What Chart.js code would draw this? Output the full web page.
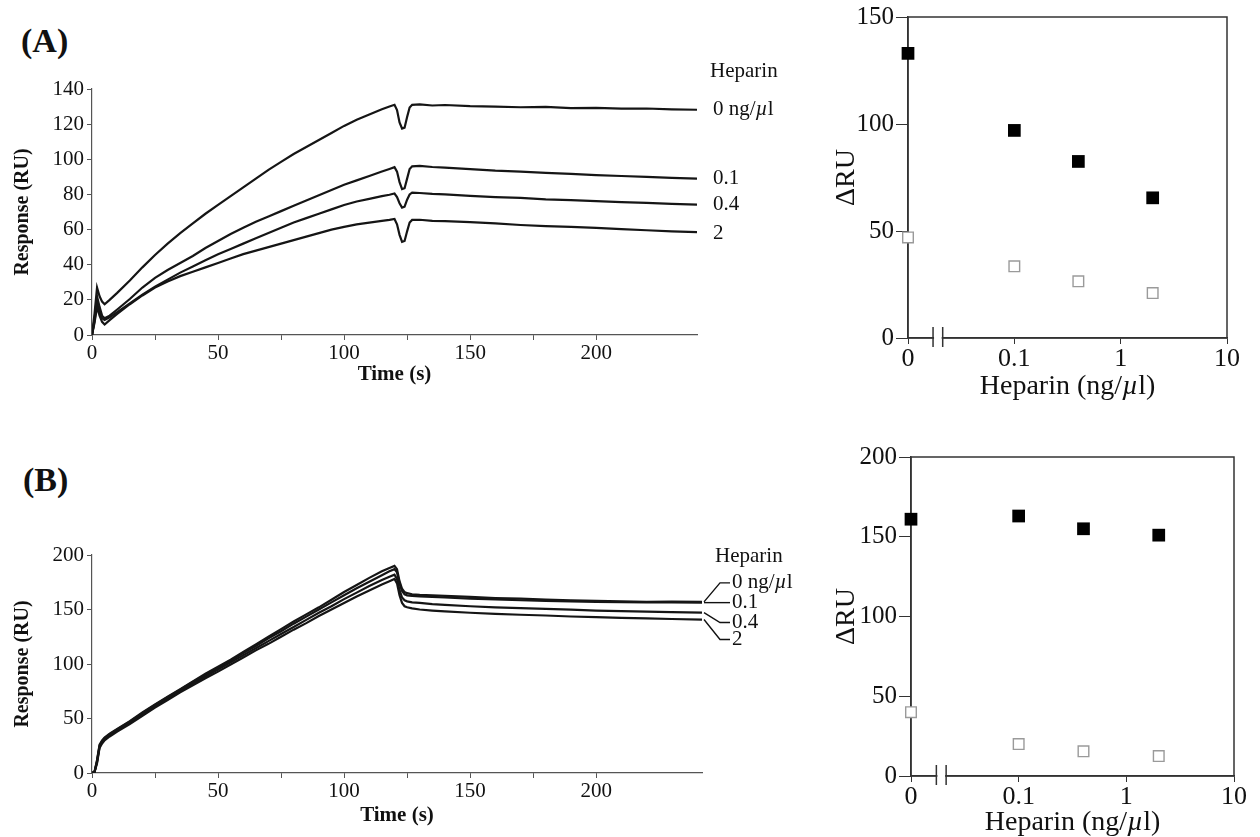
<!DOCTYPE html>
<html>
<head>
<meta charset="utf-8">
<title>Heparin sensorgrams</title>
<script src="https://cdn.jsdelivr.net/npm/chart.js@4.4.1/dist/chart.umd.min.js"></script>
<style>
  html, body { margin: 0; background: #fff; }
  body { position: relative; width: 1260px; height: 837px; overflow: hidden; font-family: "Liberation Serif", serif; }
  .panel { position: absolute; }
  .tag { position: absolute; font-weight: bold; font-size: 34px; line-height: 1; color: #111; }
</style>
</head>
<body>
<div class="tag" style="left:21px; top:24px">(A)</div>
<div class="tag" style="left:23px; top:463px">(B)</div>
<div class="panel" style="left:0; top:55px; width:800px; height:334px"><canvas id="sensA"></canvas></div>
<div class="panel" style="left:828px; top:0; width:432px; height:400px"><canvas id="doseA"></canvas></div>
<div class="panel" style="left:0; top:520px; width:800px; height:310px"><canvas id="sensB"></canvas></div>
<div class="panel" style="left:828px; top:440px; width:432px; height:397px"><canvas id="doseB"></canvas></div>

<script>
// ---- data ----
const doseLabels = ["0 ng/µl", "0.1", "0.4", "2"];

// (A) sensorgrams
const timeA = [0,1,2,3,4,5,7,10,15,20,25,30,35,40,45,50,55,60,65,70,75,80,85,90,95,100,105,110,115,118,120,121,122,123,124,125,126,127,130,135,140,150,160,170,180,190,200,210,220,230,240];
const respA0  = [0,12,27,22,19,17.5,20,24,31,38.5,45.5,52,58,63.5,69,74,79,84,89,94,98.5,103,107,111,115,119,122.5,125.5,128.5,130,131,128,121,117.5,118,124,129.5,131,131.2,130.6,130.9,130.2,130,129.6,129.8,129.1,129.3,128.8,128.9,128.4,128.2];
const respA01 = [0,9,22,16,11,9.5,11,14.5,20.5,27,32.5,37,41,45,49.5,53.5,57.5,61,64.5,67.5,70.5,73.5,76.5,79.5,82.5,85.5,88,90.5,93,94.5,95.5,93,87,83,83.5,89,94.5,96,96.3,95.6,95.2,94.4,93.5,93,92.3,91.7,91,90.5,90,89.4,89];
const respA04 = [0,8,18,13,9.5,8.5,10,13,18,23,27.5,31.5,35.5,39,42.5,46,49,52,55,58,61,64,66.5,69,71.5,74,76,77.5,79,79.8,80.5,78.5,75,72.5,73,77,80,81,80.8,80.3,80,79.2,78.5,78,77.2,76.8,76.2,75.6,75.2,74.6,74.2];
const respA2  = [0,7,16,11,7.5,6,8.5,12,17.5,22.5,27,30.5,33.5,36,38.5,41,43.5,46,48,50,52,54,56,58,60,61.5,63,64,65,65.5,66,63,57,53,53.5,59,64,65.5,65.6,65,64.8,64.2,63.5,62.6,62,61.5,61,60.2,59.6,59,58.5];

// (B) sensorgrams
const timeB = [0,1,2,3,4,5,7,10,15,20,25,30,35,40,45,50,55,60,65,70,75,80,85,90,95,100,105,110,115,118,120,121,122,123,124,125,127,130,135,140,150,160,170,180,190,200,210,220,230,242];
const respB0  = [0,1,12,26,30,32.5,36,40.5,47.5,55.5,63,70,77,84,91,97.5,104,111,118,125,132,139,145.5,152,159,166,172.5,179,185,188,190,187,176,169,166,165,164,163.5,163,162.5,161.5,160.5,160,159,158.5,158,157.5,157,157.3,157];
const respB01 = [0,1,11,25,29,32,35.5,40,47,55,62.5,69.5,76.5,83.5,90,96.5,103,110,116.5,123.5,130,137,143.5,150,156.5,163,169.5,175.5,181.5,185,187,184,174,167,164,163,162.5,162,161.5,161,160,159.3,158.5,158,157.4,157,156.7,156.4,156.6,156.3];
const respB04 = [0,1,10,24,28,31,34.5,39,46,53.5,61,68,75,82,88.5,95,101.5,108,114.5,121,127.5,134,140.5,147,153,159.5,165.5,171.5,177,180,182,178,168,161,158.5,157.5,156.5,156,155,154.3,153,152,151.2,150.5,149.8,149,148.5,148,147.6,147.2];
const respB2  = [0,1,9,23,27,30,33.5,38,45,52.5,60,67,74,80.5,87,93,99.5,106,112.5,118.5,125,131.5,137.5,144,150,156,162,167.5,173,176,178,174,163,156,153,152,151,150,149,148.2,147,146,145.2,144.5,143.6,143,142.4,141.8,141.3,140.8];

// dose response, heparin in ng/ul (0 is drawn at the axis break)
const heparinDose = [0, 0.1, 0.4, 2];
const deltaA_filled = [133, 97, 82.5, 65.5];
const deltaA_open   = [47, 33.5, 26.5, 21];
const deltaB_filled = [161, 163, 155, 151];
const deltaB_open   = [40, 20, 15.5, 12.5];
const doseTickValues = [0.01, 0.1, 1, 10];
const doseTickLabels = ["0", "0.1", "1", "10"];

// ---- helpers ----
const SERIF = '"Liberation Serif", "DejaVu Serif", serif';
Chart.defaults.font.family = SERIF;
Chart.defaults.color = "#111";

// text with an italic mu
function drawMu(ctx, text, x, y, size, align) {
  const parts = text.split("µ");
  const pieces = [];
  parts.forEach((p, i) => {
    if (p) pieces.push([p, false]);
    if (i < parts.length - 1) pieces.push(["µ", true]);
  });
  let total = 0;
  pieces.forEach(pc => {
    ctx.font = (pc[1] ? "italic " : "") + size + "px " + SERIF;
    total += ctx.measureText(pc[0]).width;
  });
  let cx = align === "center" ? x - total / 2 : x;
  ctx.textAlign = "left";
  pieces.forEach(pc => {
    ctx.font = (pc[1] ? "italic " : "") + size + "px " + SERIF;
    ctx.fillText(pc[0], cx, y);
    cx += ctx.measureText(pc[0]).width;
  });
}

// heparin labels at the right end of each sensorgram
const curveLabels = {
  id: "curveLabels",
  afterDraw(chart, args, opts) {
    const { ctx, chartArea: a, scales: { y } } = chart;
    ctx.save();
    ctx.fillStyle = "#111";
    ctx.strokeStyle = "#111";
    ctx.lineWidth = 1.4;
    ctx.textBaseline = "middle";
    let firstY = null;
    chart.data.datasets.forEach((ds, i) => {
      const yEnd = y.getPixelForValue(ds.data[ds.data.length - 1].y);
      const ly = yEnd + opts.shift[i];
      if (firstY === null) firstY = ly;
      if (opts.leader) {
        ctx.beginPath();
        ctx.moveTo(a.right + 2, yEnd);
        ctx.lineTo(a.right + 18, ly);
        ctx.lineTo(a.right + opts.dx - 2, ly);
        ctx.stroke();
      }
      drawMu(ctx, doseLabels[i], a.right + opts.dx, ly, 21, "left");
    });
    ctx.font = "21px " + SERIF;
    ctx.fillText("Heparin", a.right + opts.headDx, firstY + opts.headDy);
    ctx.restore();
  }
};

// closed frame + axis break for the dose plots
const frameAndBreak = {
  id: "frameAndBreak",
  beforeDatasetsDraw(chart) {
    const { ctx, chartArea: a, scales: { x } } = chart;
    ctx.save();
    ctx.strokeStyle = "#333";
    ctx.lineWidth = 1.5;
    ctx.strokeRect(a.left, a.top, a.right - a.left, a.bottom - a.top);
    const b1 = x.getPixelForValue(0.0172);
    const b2 = x.getPixelForValue(0.0212);
    ctx.fillStyle = "#fff";
    ctx.fillRect(b1 + 1, a.bottom - 3, b2 - b1 - 2, 6);
    ctx.beginPath();
    ctx.moveTo(b1, a.bottom - 11); ctx.lineTo(b1, a.bottom + 9);
    ctx.moveTo(b2, a.bottom - 11); ctx.lineTo(b2, a.bottom + 9);
    ctx.stroke();
    ctx.restore();
  },
  afterDraw(chart, args, opts) {
    const { ctx, chartArea: a } = chart;
    ctx.save();
    ctx.fillStyle = "#111";
    ctx.textBaseline = "middle";
    drawMu(ctx, "Heparin (ng/µl)", (a.left + a.right) / 2, a.bottom + opts.titleDy, 28, "center");
    ctx.restore();
  }
};

function sensorChart(id, times, series, o) {
  const datasets = series.map(vals => ({
    data: vals.map((v, i) => ({ x: times[i], y: v })),
    borderColor: "#151515",
    borderWidth: 2.2,
    pointRadius: 0,
    tension: 0,
    fill: false
  }));
  return new Chart(document.getElementById(id), {
    type: "line",
    data: { datasets },
    plugins: [curveLabels],
    options: {
      responsive: true,
      maintainAspectRatio: false,
      animation: false,
      events: [],
      layout: { padding: { top: o.padTop, right: o.padRight, left: 0, bottom: 0 } },
      plugins: {
        legend: { display: false },
        tooltip: { enabled: false },
        curveLabels: o.labels
      },
      scales: {
        x: {
          type: "linear",
          min: 0,
          max: o.xMax,
          afterFit: s => { s.height = o.xHeight; },
          afterBuildTicks: s => { s.ticks = s.ticks.filter(t => t.value % 25 === 0); },
          border: { color: "#555", width: 1.2 },
          grid: { drawOnChartArea: false, tickLength: 5, color: "#555" },
          ticks: { stepSize: 25, font: { size: 21 }, padding: 1, maxRotation: 0,
                   callback: v => (v % 50 === 0 ? v : "") },
          title: { display: true, text: "Time (s)", font: { size: 21, weight: "bold" }, padding: { top: 0, bottom: 2 } }
        },
        y: {
          min: 0,
          max: o.yMax,
          afterFit: s => { s.width = 92; },
          border: { color: "#555", width: 1.2 },
          grid: { drawOnChartArea: false, tickLength: 5, color: "#555" },
          ticks: { stepSize: o.yStep, font: { size: 21 }, padding: 3,
                   callback: v => (v % o.yLabelEvery === 0 ? v : "") },
          title: { display: true, text: "Response (RU)", font: { size: 20, weight: "bold" }, padding: { top: 11, bottom: 0 } }
        }
      }
    }
  });
}

function doseChart(id, filled, open, o) {
  const toPts = vals => vals.map((v, i) => ({ x: heparinDose[i] === 0 ? doseTickValues[0] : heparinDose[i], y: v }));
  return new Chart(document.getElementById(id), {
    type: "scatter",
    data: {
      datasets: [
        { data: toPts(filled), pointStyle: "rect", pointRadius: 9, backgroundColor: "#000", borderColor: "#000", borderWidth: 0, clip: false },
        { data: toPts(open), pointStyle: "rect", pointRadius: 7.5, backgroundColor: "#fff", borderColor: "#9a9a9a", borderWidth: 1.4, clip: false }
      ]
    },
    plugins: [frameAndBreak],
    options: {
      responsive: true,
      maintainAspectRatio: false,
      animation: false,
      events: [],
      layout: { padding: { top: 16, right: o.padRight, left: 0, bottom: 0 } },
      plugins: {
        legend: { display: false },
        tooltip: { enabled: false },
        frameAndBreak: { titleDy: o.titleDy }
      },
      scales: {
        x: {
          type: "logarithmic",
          min: doseTickValues[0],
          max: doseTickValues[doseTickValues.length - 1],
          afterFit: s => { s.height = o.xHeight; },
          afterBuildTicks: s => { s.ticks = doseTickValues.map(v => ({ value: v })); },
          border: { color: "#333", width: 1.5 },
          grid: { drawOnChartArea: false, tickLength: 6, color: "#333" },
          ticks: { font: { size: 26 }, padding: 0, maxRotation: 0, autoSkip: false,
                   callback: (v, i) => doseTickLabels[i] }
        },
        y: {
          min: 0,
          max: o.yMax,
          afterFit: s => { s.width = o.yWidth; },
          border: { color: "#333", width: 1.5 },
          grid: { drawOnChartArea: false, tickLength: 12, color: "#333" },
          ticks: { stepSize: 50, font: { size: 25 }, padding: 2 },
          title: { display: true, text: "ΔRU", font: { size: 28 }, padding: { top: 2, bottom: 0 } }
        }
      }
    }
  });
}

sensorChart("sensA", timeA, [respA0, respA01, respA04, respA2], {
  xMax: 240, yMax: 140, yStep: 10, yLabelEvery: 20, padTop: 34, padRight: 103, xHeight: 54,
  labels: { leader: false, dx: 16, headDx: 13, headDy: -38, shift: [0, 0, 0, 1] }
});
sensorChart("sensB", timeB, [respB0, respB01, respB04, respB2], {
  xMax: 242, yMax: 200, yStep: 25, yLabelEvery: 50, padTop: 35, padRight: 98, xHeight: 57,
  labels: { leader: true, dx: 30, headDx: 13, headDy: -26, shift: [-19, 0, 10, 20] }
});
doseChart("doseA", deltaA_filled, deltaA_open, { yMax: 150, yWidth: 80, padRight: 33, xHeight: 62, titleDy: 49 });
doseChart("doseB", deltaB_filled, deltaB_open, { yMax: 200, yWidth: 83, padRight: 26, xHeight: 61, titleDy: 47 });
</script>
</body>
</html>
